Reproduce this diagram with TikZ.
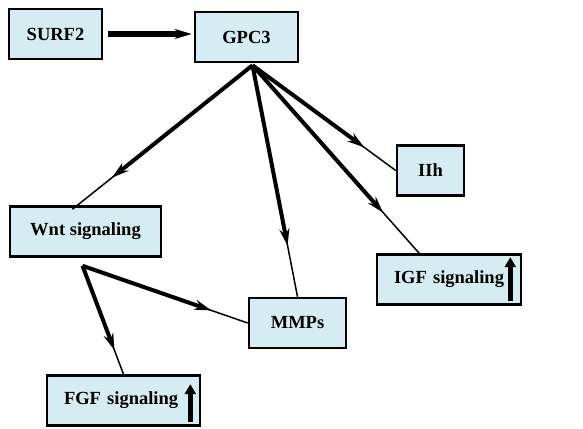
\documentclass[tikz,border=0pt]{standalone}
\usepackage{fontspec}
\setmainfont{Liberation Serif}
\usetikzlibrary{arrows.meta,calc}
\definecolor{cBox}{HTML}{D5EDF2}
\tikzset{
  box/.style={draw, line width=2.6pt, fill=cBox, font=\fontsize{18.5}{21}\selectfont\bfseries,
    inner sep=2pt, minimum height=50pt},
  link/.style={-{Stealth[length=17pt,width=10pt]}, line width=4pt},
  tail/.style={line width=1.5pt},
  uparr/.style={-{Triangle[length=10pt,width=11pt]}, line width=4.5pt},
}
% thick arrow with its head at about 4/5 and a thin tail to the end
\newcommand{\link}[2]{%
  \draw[link] (#1) -- ($(#1)!0.78!(#2)$);
  \draw[tail] ($(#1)!0.76!(#2)$) -- (#2);}

\begin{document}
\begin{tikzpicture}[x=1pt,y=-1pt]
    \useasboundingbox (0,0) rectangle (583,428);
    % --- boxes ---
    \node[box, minimum width=93pt] (surf) at (55.5,34)  {SURF2};
    \node[box, minimum width=103pt] (gpc) at (246.5,37) {GPC3};
    \node[box, minimum width=67pt] (iih) at (430.5,170.5) {IIh};
    \node[box, minimum width=151pt] (wnt) at (85.5,231.5) {Wnt signaling};
    \node[box, minimum width=97pt] (mmp) at (297.5,323) {MMPs};
    \node[box, minimum width=144pt, text width=134pt, align=left] (igf) at (449,279.5)
      {\hspace*{12pt}IGF signaling};
    \node[box, minimum width=153pt, text width=143pt, align=left] (fgf) at (123.5,400.5)
      {\hspace*{12pt}FGF signaling};
    % up arrows inside the boxes
    \draw[uparr] ([xshift=-12pt,yshift=5pt]igf.south east) -- ([xshift=-12pt,yshift=-4pt]igf.north east);
    \draw[uparr] ([xshift=-11pt,yshift=5pt]fgf.south east) -- ([xshift=-11pt,yshift=-10pt]fgf.north east);
    % --- connectors ---
    \coordinate (gout) at ([xshift=6pt,yshift=-2pt]gpc.south);
    \coordinate (wout) at ([xshift=-3pt,yshift=-8pt]wnt.south);
    \coordinate (win) at ([xshift=-13pt,yshift=-4pt]wnt.north);
    \coordinate (igin) at ([xshift=-29pt,yshift=-1pt]igf.north);
    \draw[link, line width=5.5pt, shorten <=5pt, shorten >=2pt] (surf.east) -- (surf.east -| gpc.west);
    \link{gout}{win}
    \link{gout}{mmp.north}
    \link{gout}{igin}
    \link{gout}{iih.west}
    \link{wout}{mmp.west}
    \link{wout}{fgf.north}
\end{tikzpicture}
\end{document}
